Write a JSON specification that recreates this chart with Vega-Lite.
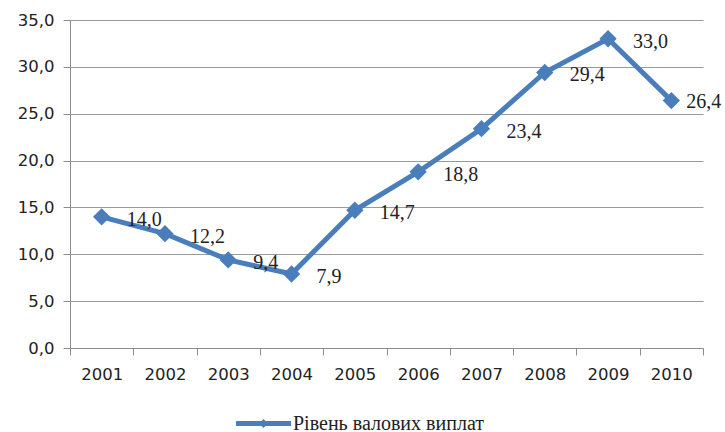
{
  "$schema": "https://vega.github.io/schema/vega-lite/v6.json",
  "width": 633,
  "height": 328,
  "autosize": "none",
  "padding": {"left": 70, "top": 20, "right": 22, "bottom": 84},
  "background": "white",
  "config": {"view": {"stroke": null}},
  "data": {"values": [
    {"year": "2001", "value": 14.0, "series": "Рівень валових виплат"},
    {"year": "2002", "value": 12.2, "series": "Рівень валових виплат"},
    {"year": "2003", "value": 9.4, "series": "Рівень валових виплат"},
    {"year": "2004", "value": 7.9, "series": "Рівень валових виплат"},
    {"year": "2005", "value": 14.7, "series": "Рівень валових виплат"},
    {"year": "2006", "value": 18.8, "series": "Рівень валових виплат"},
    {"year": "2007", "value": 23.4, "series": "Рівень валових виплат"},
    {"year": "2008", "value": 29.4, "series": "Рівень валових виплат"},
    {"year": "2009", "value": 33.0, "series": "Рівень валових виплат"},
    {"year": "2010", "value": 26.4, "series": "Рівень валових виплат"}
  ]},
  "encoding": {
    "x": {
      "field": "year", "type": "ordinal",
      "scale": {"type": "band", "paddingInner": 0, "paddingOuter": 0},
      "axis": {
        "title": null, "labelAngle": 0, "tickBand": "extent",
        "labelFont": "DejaVu Sans", "labelFontSize": 16.5, "labelColor": "#222",
        "labelPadding": 11, "labelBaseline": "top",
        "tickSize": 7, "tickColor": "#8c8c8c", "domainColor": "#8c8c8c",
        "grid": false
      }
    },
    "y": {
      "field": "value", "type": "quantitative",
      "scale": {"domain": [0, 35], "nice": false},
      "axis": {
        "title": null, "values": [0, 5, 10, 15, 20, 25, 30, 35],
        "labelExpr": "replace(format(datum.value, '.1f'), '.', ',')",
        "labelFont": "DejaVu Sans", "labelFontSize": 16.5, "labelColor": "#222",
        "labelPadding": 9, "tickSize": 7, "tickColor": "#8c8c8c",
        "domainColor": "#8c8c8c", "grid": true, "gridColor": "#9a9a9a"
      }
    }
  },
  "layer": [
    {
      "mark": {"type": "line", "color": "#4a7ebb", "strokeWidth": 5},
      "encoding": {
        "color": {
          "field": "series", "type": "nominal",
          "scale": {"range": ["#4a7ebb"]},
          "legend": {
            "title": null, "orient": "none", "legendX": 166, "legendY": 376,
            "symbolType": "M-1,-0.09L1,-0.09L1,0.09L-1,0.09Z M0,-0.16L0.16,0L0,0.16L-0.16,0Z",
            "symbolSize": 3025, "symbolStrokeWidth": 0, "symbolFillColor": "#4a7ebb",
            "symbolOpacity": 1,
            "labelFont": "Liberation Serif", "labelFontSize": 20, "labelColor": "#222",
            "labelOffset": 2, "labelLimit": 400
          }
        }
      }
    },
    {
      "mark": {"type": "point", "shape": "diamond", "filled": true, "size": 300, "color": "#4a7ebb", "opacity": 1}
    },
    {
      "transform": [{"filter": "datum.year != '2010'"}],
      "mark": {"type": "text", "align": "left", "baseline": "middle", "dx": 25, "dy": 3, "font": "Liberation Serif", "fontSize": 20, "color": "#222"},
      "encoding": {
        "text": {"field": "label", "type": "nominal"}
      }
    },
    {
      "transform": [{"filter": "datum.year == '2010'"}],
      "mark": {"type": "text", "align": "left", "baseline": "middle", "dx": 15, "dy": 1, "font": "Liberation Serif", "fontSize": 20, "color": "#222"},
      "encoding": {
        "text": {"field": "label", "type": "nominal"}
      }
    }
  ],
  "transform": [{"calculate": "replace(format(datum.value, '.1f'), '.', ',')", "as": "label"}]
}
